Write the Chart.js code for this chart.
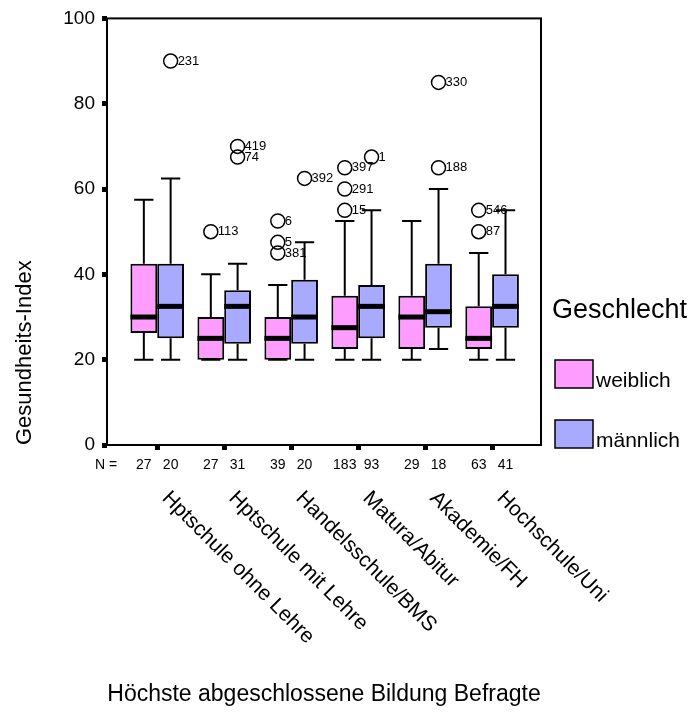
<!DOCTYPE html>
<html>
<head>
<meta charset="utf-8">
<title>Gesundheits-Index nach Bildung und Geschlecht</title>
<script src="https://cdn.jsdelivr.net/npm/chart.js@4.4.1/dist/chart.umd.min.js"></script>
<style>
  body { margin: 0; background: #fff; }
</style>
</head>
<body>
<canvas id="boxChart" width="692" height="713"></canvas>
<script>
const categories = ['Hptschule ohne Lehre', 'Hptschule mit Lehre', 'Handelsschule/BMS', 'Matura/Abitur', 'Akademie/FH', 'Hochschule/Uni'];

// Kennwerte je Bildungsgruppe: Whisker-Enden, Quartile, Median
const weiblichMin = [20, 20, 20, 20, 20, 20];
const weiblichQ1 = [26.25, 20, 20, 22.5, 22.5, 22.5];
const weiblichMedian = [30, 25, 25, 27.5, 30, 25];
const weiblichQ3 = [42.5, 30, 30, 35, 35, 32.5];
const weiblichMax = [57.5, 40, 37.5, 52.5, 52.5, 45];

const maennlichMin = [20, 20, 20, 20, 22.5, 20];
const maennlichQ1 = [25, 23.75, 23.75, 25, 27.5, 27.5];
const maennlichMedian = [32.5, 32.5, 30, 32.5, 31.25, 32.5];
const maennlichQ3 = [42.5, 36.25, 38.75, 37.5, 42.5, 40];
const maennlichMax = [62.5, 42.5, 47.5, 55, 60, 55];

const weiblichN = [27, 27, 39, 183, 29, 63];
const maennlichN = [20, 31, 20, 93, 18, 41];

// Ausreisser: Gruppe (1-6), Wert, Fallnummer
const weiblichOutGroup = [2, 3, 3, 3, 4, 4, 4, 6, 6];
const weiblichOutValue = [50, 52.5, 47.5, 45, 65, 60, 55, 55, 50];
const weiblichOutCase = ['113', '6', '5', '381', '397', '291', '15', '546', '87'];

const maennlichOutGroup = [1, 2, 2, 3, 4, 5, 5];
const maennlichOutValue = [90, 70, 67.5, 62.5, 67.5, 85, 65];
const maennlichOutCase = ['231', '419', '74', '392', '1', '330', '188'];

const yTicks = [0, 20, 40, 60, 80, 100];

const PINK = '#ff9cff';
const BLUE = '#a8aaff';
const FONT = "'Liberation Sans', Arial, sans-serif";
const CAT_PCT = 0.8;           // Anteil der Gruppe, den beide Boxen zusammen belegen
const SHIFT = CAT_PCT / 4;     // Abstand Boxmitte zur Gruppenmitte

Chart.defaults.font.family = FONT;
Chart.defaults.color = '#000';

const boxes = (q1, q3) => q1.map((v, i) => ({ x: i + 1, y: [v, q3[i]] }));
const outliers = (groups, values, dir) => groups.map((g, i) => ({ x: g + dir * SHIFT, y: values[i] }));

// Whisker, Mediane, Beschriftungen, Rahmen und Legende
const boxplotPlugin = {
  id: 'boxplot',
  afterDatasetsDraw(chart) {
    const ctx = chart.ctx;
    const y = chart.scales.y;
    ctx.save();
    ctx.strokeStyle = '#000';
    ctx.fillStyle = '#000';
    ctx.lineWidth = 2;
    chart.data.datasets.forEach((ds, di) => {
      if (!ds.stats) return;
      const s = ds.stats;
      chart.getDatasetMeta(di).data.forEach((bar, i) => {
        const half = bar.width / 2;
        const cap = bar.width * 0.36;
        const yMin = y.getPixelForValue(s.min[i]);
        const yQ1 = y.getPixelForValue(s.q1[i]);
        const yQ3 = y.getPixelForValue(s.q3[i]);
        const yMax = y.getPixelForValue(s.max[i]);
        ctx.beginPath();
        ctx.moveTo(bar.x, yQ3); ctx.lineTo(bar.x, yMax);
        ctx.moveTo(bar.x - cap, yMax); ctx.lineTo(bar.x + cap, yMax);
        ctx.moveTo(bar.x, yQ1); ctx.lineTo(bar.x, yMin);
        ctx.moveTo(bar.x - cap, yMin); ctx.lineTo(bar.x + cap, yMin);
        ctx.stroke();
        const yMed = y.getPixelForValue(s.median[i]);
        ctx.fillRect(bar.x - half, yMed - 2.5, bar.width, 5);
      });
    });

    // Fallnummern neben den Ausreissern
    ctx.font = '13px ' + FONT;
    ctx.textAlign = 'left';
    ctx.textBaseline = 'middle';
    chart.data.datasets.forEach((ds, di) => {
      if (!ds.cases) return;
      chart.getDatasetMeta(di).data.forEach((pt, i) => {
        ctx.fillText(ds.cases[i], pt.x + 7, pt.y);
      });
    });
    ctx.restore();
  },
  afterDraw(chart) {
    const ctx = chart.ctx;
    const area = chart.chartArea;
    const x = chart.scales.x;
    ctx.save();
    ctx.strokeStyle = '#000';
    ctx.lineWidth = 2;
    ctx.strokeRect(area.left, area.top, area.right - area.left, area.bottom - area.top);

    // Fallzahlen unter den Boxen
    ctx.fillStyle = '#000';
    ctx.font = '14px ' + FONT;
    ctx.textBaseline = 'middle';
    ctx.textAlign = 'left';
    ctx.fillText('N =', area.left - 12, area.bottom + 20);
    ctx.textAlign = 'center';
    [weiblichN, maennlichN].forEach((n, di) => {
      chart.getDatasetMeta(di).data.forEach((bar, i) => {
        ctx.fillText(String(n[i]), bar.x, area.bottom + 20);
      });
    });

    // schraege Gruppenbeschriftung
    ctx.font = '21px ' + FONT;
    ctx.textAlign = 'left';
    categories.forEach((c, i) => {
      ctx.save();
      ctx.translate(x.getPixelForValue(i + 1) + 8, area.bottom + 50);
      ctx.rotate(Math.PI / 4);
      ctx.fillText(c, 0, 0);
      ctx.restore();
    });

    // Legende rechts
    const lx = area.right + 11;
    ctx.textBaseline = 'alphabetic';
    ctx.font = '27px ' + FONT;
    ctx.fillText('Geschlecht', lx, 318);
    ctx.font = '21px ' + FONT;
    chart.data.datasets.filter(ds => ds.stats).forEach((ds, i) => {
      const top = 360 + i * 60;
      ctx.fillStyle = ds.backgroundColor;
      ctx.fillRect(lx + 3, top, 38, 28);
      ctx.lineWidth = 1.5;
      ctx.strokeRect(lx + 3, top, 38, 28);
      ctx.fillStyle = '#000';
      ctx.fillText(ds.label, lx + 44, top + 27);
    });
    ctx.restore();
  }
};

new Chart(document.getElementById('boxChart'), {
  type: 'bar',
  data: {
    datasets: [
      {
        label: 'weiblich',
        data: boxes(weiblichQ1, weiblichQ3),
        backgroundColor: PINK,
        borderColor: '#000',
        borderWidth: 2,
        borderSkipped: false,
        stats: { min: weiblichMin, q1: weiblichQ1, median: weiblichMedian, q3: weiblichQ3, max: weiblichMax }
      },
      {
        label: 'männlich',
        data: boxes(maennlichQ1, maennlichQ3),
        backgroundColor: BLUE,
        borderColor: '#000',
        borderWidth: 2,
        borderSkipped: false,
        stats: { min: maennlichMin, q1: maennlichQ1, median: maennlichMedian, q3: maennlichQ3, max: maennlichMax }
      },
      {
        type: 'scatter',
        label: 'Ausreisser weiblich',
        data: outliers(weiblichOutGroup, weiblichOutValue, -1),
        cases: weiblichOutCase,
        pointRadius: 7,
        pointBorderWidth: 1.5,
        borderColor: '#000',
        backgroundColor: 'rgba(0,0,0,0)'
      },
      {
        type: 'scatter',
        label: 'Ausreisser männlich',
        data: outliers(maennlichOutGroup, maennlichOutValue, 1),
        cases: maennlichOutCase,
        pointRadius: 7,
        pointBorderWidth: 1.5,
        borderColor: '#000',
        backgroundColor: 'rgba(0,0,0,0)'
      }
    ]
  },
  options: {
    responsive: false,
    animation: false,
    events: [],
    categoryPercentage: CAT_PCT,
    barPercentage: 1,
    layout: { padding: { top: 18, right: 151, bottom: 0, left: 0 } },
    plugins: { legend: { display: false }, tooltip: { enabled: false } },
    scales: {
      x: {
        type: 'linear',
        min: 0.25,
        max: 6.73,
        offset: false,
        afterBuildTicks: s => { s.ticks = categories.map((c, i) => ({ value: i + 1 })); },
        afterFit: s => { s.height = 268; },
        ticks: { display: false },
        grid: { offset: false, drawOnChartArea: false, drawTicks: true, tickLength: 5, tickWidth: 5, tickColor: '#000' },
        border: { display: false },
        title: {
          display: true,
          text: 'Höchste abgeschlossene Bildung Befragte',
          font: { size: 23 },
          padding: { top: 0, bottom: 5 }
        }
      },
      y: {
        min: 0,
        max: 100,
        afterBuildTicks: s => { s.ticks = yTicks.map(v => ({ value: v })); },
        afterFit: s => { s.width = 107; },
        ticks: { font: { size: 19 }, padding: 7 },
        grid: { drawOnChartArea: false, drawTicks: true, tickLength: 5, tickWidth: 5, tickColor: '#000' },
        border: { display: false },
        title: {
          display: true,
          text: 'Gesundheits-Index',
          align: 'start',
          font: { size: 22 },
          padding: { top: 12, bottom: 0 }
        }
      }
    }
  },
  plugins: [boxplotPlugin]
});
</script>
</body>
</html>
